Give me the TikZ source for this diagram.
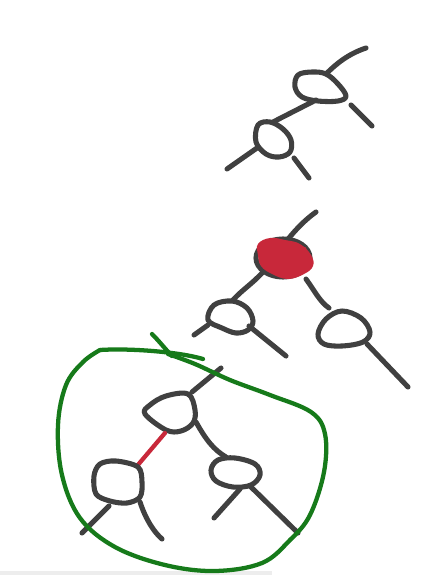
\documentclass[tikz,border=0pt]{standalone}
\definecolor{inkgrey}{HTML}{404040}
\definecolor{inkred}{HTML}{C8283A}
\definecolor{inkgreen}{HTML}{167A1A}
\begin{document}
\begin{tikzpicture}[x=0.75pt,y=-0.75pt,
  ink/.style={draw=inkgrey,line width=3.8pt,line cap=round,line join=round},
  redink/.style={draw=inkred,line width=3.2pt,line cap=round},
  greenink/.style={draw=inkgreen,line width=3.2pt,line cap=round,line join=round}]
\useasboundingbox (0,0) rectangle (441,575);
\fill[white] (0,0) rectangle (441,575);
\fill[black!7] (0,571) rectangle (272,575);

% ---- top-right tree ----
\draw[ink] (366,48) .. controls (348,54) and (336,64) .. (326,74);
\draw[ink] plot[smooth cycle,tension=0.6] coordinates {(298,75) (312,72) (326,74) (338,84) (346,96) (338,101) (318,101) (302,97) (295,87)};
\draw[ink] (351,105) -- (372,126);
\draw[ink] (316,100) -- (273,122);
\draw[ink] plot[smooth cycle,tension=0.6] coordinates {(258,125) (270,122) (283,129) (291,140) (290,152) (279,157) (266,154) (256,142)};
\draw[ink] (257,148) -- (227,169);
\draw[ink] (294,158) -- (309,178);

% ---- middle tree ----
\draw[ink] (316,212) .. controls (302,222) and (292,234) .. (285,243);
\draw[ink] (283,258) ellipse [x radius=27,y radius=19];
\fill[inkred] plot[smooth cycle,tension=0.7] coordinates {(258,244) (270,238) (285,240) (300,244) (311,255) (313,266) (304,274) (288,279) (272,274) (261,266) (258,255)};
\draw[inkred,line width=1.5pt,line join=round] (262,244) -- (268,268) -- (275,241) -- (282,272) -- (290,243) -- (296,276) -- (305,248) -- (310,268);
\draw[ink] (263,272) .. controls (252,284) and (242,290) .. (233,300);
\draw[ink] (306,279) .. controls (314,290) and (320,302) .. (329,308);
\draw[ink] plot[smooth cycle,tension=0.6] coordinates {(214,305) (232,301) (247,308) (253,321) (248,330) (236,333) (222,328) (208,320)};
\draw[ink] (208,325) -- (194,335);
\draw[ink] (249,326) -- (286,356);
\draw[ink] plot[smooth cycle,tension=0.6] coordinates {(326,319) (342,311) (361,318) (370,332) (363,342) (342,346) (324,344) (318,334)};
\draw[ink] (367,344) -- (408,387);

% ---- bottom subtree ----
\draw[ink] (221,368) -- (192,392);
\draw[ink] plot[smooth cycle,tension=0.6] coordinates {(150,405) (166,396) (188,394) (195,410) (193,423) (181,431) (166,430) (145,414)};
\draw[redink] (165,433) -- (137,466);
\draw[ink] (196,422) .. controls (206,440) and (214,450) .. (226,457);
\draw[ink] plot[smooth cycle,tension=0.55] coordinates {(100,464) (116,461) (138,467) (142,482) (140,497) (127,503) (110,501) (96,494) (94,476)};
\draw[ink] (109,506) -- (82,533);
\draw[ink] (140,502) .. controls (146,520) and (154,532) .. (162,539);
\draw[ink] plot[smooth cycle,tension=0.6] coordinates {(218,460) (235,458) (255,464) (260,475) (251,485) (233,487) (216,481) (211,470)};
\draw[ink] (240,489) -- (214,518);
\draw[ink] (250,486) -- (298,533);

% ---- green loop ----
\draw[greenink] (152,334) .. controls (160,342) and (166,350) .. (172,356);
\draw[greenink] (100,350) .. controls (130,348) and (180,352) .. (203,359);
\draw[greenink] plot[smooth,tension=0.6] coordinates {(100,350) (83,362) (66,385) (58,425) (62,475) (80,518) (115,547) (165,565) (215,571) (262,563) (290,540) (310,515) (324,472) (325,434) (311,412) (270,395) (230,380) (195,364) (168,354)};
\end{tikzpicture}
\end{document}
